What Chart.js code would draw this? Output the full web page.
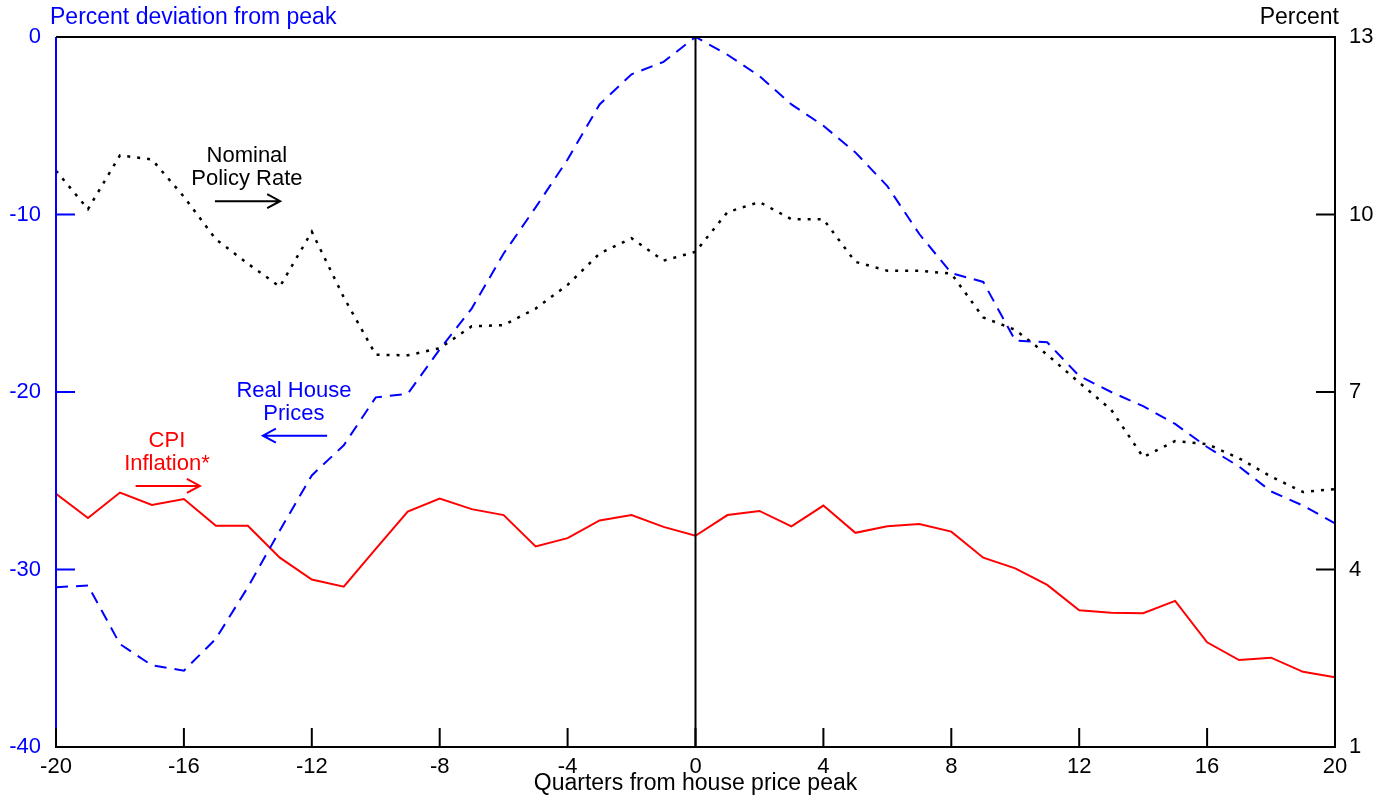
<!DOCTYPE html>
<html>
<head>
<meta charset="utf-8">
<script src="https://cdn.jsdelivr.net/npm/chart.js@4.4.1/dist/chart.umd.min.js"></script>
<style>
    html, body { margin: 0; padding: 0; background: #fff; }
    #wrap { width: 1392px; height: 797px; }
</style>
</head>
<body>
<div id="wrap"><canvas id="chart" width="1392" height="797"></canvas></div>
<script>
// quarters from house price peak
const quarters = [-20, -19, -18, -17, -16, -15, -14, -13, -12, -11, -10, -9, -8, -7, -6, -5, -4, -3, -2, -1,
    0, 1, 2, 3, 4, 5, 6, 7, 8, 9, 10, 11, 12, 13, 14, 15, 16, 17, 18, 19, 20];

// percent deviation from peak (left axis)
const realHousePrices = [-31.0, -30.9, -34.2, -35.4, -35.7, -33.9, -31.0, -27.8, -24.7, -23.0,
    -20.3, -20.1, -17.6, -15.3, -12.2, -9.6, -6.9, -3.8, -2.1, -1.4,
    0.0, -1.0, -2.2, -3.8, -5.0, -6.5, -8.4, -11.1, -13.3, -13.8,
    -17.1, -17.2, -19.1, -20.0, -20.8, -21.8, -23.1, -24.2, -25.6, -26.4, -27.4];

// percent (right axis)
const policyRate = [10.74, 10.09, 11.00, 10.93, 10.30, 9.58, 9.17, 8.78, 9.71, 8.60,
    7.63, 7.62, 7.74, 8.11, 8.13, 8.41, 8.81, 9.34, 9.60, 9.22,
    9.37, 10.04, 10.21, 9.92, 9.92, 9.20, 9.05, 9.05, 9.00, 8.26,
    8.05, 7.63, 7.16, 6.70, 5.90, 6.17, 6.12, 5.88, 5.57, 5.31, 5.36];

const cpiInflation = [5.28, 4.87, 5.30, 5.09, 5.19, 4.74, 4.74, 4.20, 3.83, 3.71,
    4.35, 4.98, 5.20, 5.02, 4.92, 4.39, 4.53, 4.83, 4.92, 4.72,
    4.57, 4.92, 4.99, 4.73, 5.08, 4.62, 4.73, 4.77, 4.64, 4.20,
    4.02, 3.74, 3.31, 3.27, 3.26, 3.47, 2.77, 2.47, 2.51, 2.27, 2.18];

const xTicks = [-20, -16, -12, -8, -4, 0, 4, 8, 12, 16, 20];
const leftTicks = [-40, -30, -20, -10, 0];
const rightTicks = [1, 4, 7, 10, 13];

const BLUE = '#0000ff';
const RED = '#ff0000';
const BLACK = '#000000';
const FONT = "'Liberation Sans', Arial, sans-serif";

// text labels, placed in data units (x quarter, y on left axis)
const annotations = [
    { lines: ['Nominal', 'Policy Rate'], color: BLACK, x: -14.03, y: -6.72, arrowY: -9.25, arrowFrom: -15.03, arrowTo: -12.99 },
    { lines: ['Real House', 'Prices'], color: BLUE, x: -12.56, y: -19.94, arrowY: -22.46, arrowFrom: -11.52, arrowTo: -13.53 },
    { lines: ['CPI', 'Inflation*'], color: RED, x: -16.53, y: -22.73, arrowY: -25.29, arrowFrom: -17.51, arrowTo: -15.50 }
];

function toPoints(values) {
    return quarters.map((q, i) => ({ x: q, y: values[i] }));
}

const framePlugin = {
    id: 'frame',
    afterDatasetsDraw(chart) {
        const ctx = chart.ctx;
        const area = chart.chartArea;
        const xs = chart.scales.x;
        const yl = chart.scales.yLeft;
        const yr = chart.scales.yRight;
        const tickLen = 19;

        ctx.save();
        ctx.lineWidth = 2;
        ctx.lineCap = 'butt';

        // zero line
        ctx.strokeStyle = BLACK;
        ctx.beginPath();
        ctx.moveTo(xs.getPixelForValue(0), area.top);
        ctx.lineTo(xs.getPixelForValue(0), area.bottom);
        ctx.stroke();

        // left axis + ticks (blue)
        ctx.strokeStyle = BLUE;
        ctx.beginPath();
        ctx.moveTo(area.left, area.top);
        ctx.lineTo(area.left, area.bottom);
        leftTicks.forEach(v => {
            const y = yl.getPixelForValue(v);
            ctx.moveTo(area.left, y);
            ctx.lineTo(area.left + tickLen, y);
        });
        ctx.stroke();

        // right axis ticks
        ctx.strokeStyle = BLACK;
        ctx.beginPath();
        rightTicks.forEach(v => {
            const y = yr.getPixelForValue(v);
            ctx.moveTo(area.right, y);
            ctx.lineTo(area.right - tickLen, y);
        });
        // top, right, bottom border
        ctx.moveTo(area.left, area.top);
        ctx.lineTo(area.right, area.top);
        ctx.lineTo(area.right, area.bottom);
        ctx.lineTo(area.left - 1, area.bottom);
        xTicks.forEach(v => {
            const x = xs.getPixelForValue(v);
            ctx.moveTo(x, area.bottom);
            ctx.lineTo(x, area.bottom - tickLen);
        });
        ctx.stroke();

        // axis titles at top
        ctx.font = '23px ' + FONT;
        ctx.textBaseline = 'middle';
        ctx.fillStyle = BLUE;
        ctx.textAlign = 'left';
        ctx.fillText('Percent deviation from peak', 50, 18);
        ctx.fillStyle = BLACK;
        ctx.textAlign = 'right';
        ctx.fillText('Percent', 1339, 18);

        // annotations with arrows
        ctx.font = '22px ' + FONT;
        ctx.textAlign = 'center';
        annotations.forEach(a => {
            const cx = xs.getPixelForValue(a.x);
            const cy = yl.getPixelForValue(a.y);
            ctx.fillStyle = a.color;
            a.lines.forEach((line, i) => ctx.fillText(line, cx, cy + i * 23));

            const ay = yl.getPixelForValue(a.arrowY);
            const x0 = xs.getPixelForValue(a.arrowFrom);
            const x1 = xs.getPixelForValue(a.arrowTo);
            const dir = x1 > x0 ? 1 : -1;
            ctx.strokeStyle = a.color;
            ctx.beginPath();
            ctx.moveTo(x0, ay);
            ctx.lineTo(x1, ay);
            ctx.moveTo(x1 - dir * 13, ay - 7);
            ctx.lineTo(x1, ay);
            ctx.lineTo(x1 - dir * 13, ay + 7);
            ctx.stroke();
        });

        ctx.restore();
    }
};

new Chart(document.getElementById('chart'), {
    type: 'scatter',
    data: {
        datasets: [
            {
                label: 'Real House Prices',
                data: toPoints(realHousePrices),
                yAxisID: 'yLeft',
                showLine: true,
                borderColor: BLUE,
                borderWidth: 2,
                borderDash: [12, 8],
                pointRadius: 0,
                tension: 0
            },
            {
                label: 'Nominal Policy Rate',
                data: toPoints(policyRate),
                yAxisID: 'yRight',
                showLine: true,
                borderColor: BLACK,
                borderWidth: 2.5,
                borderDash: [3, 7],
                pointRadius: 0,
                tension: 0
            },
            {
                label: 'CPI Inflation*',
                data: toPoints(cpiInflation),
                yAxisID: 'yRight',
                showLine: true,
                borderColor: RED,
                borderWidth: 2,
                pointRadius: 0,
                tension: 0
            }
        ]
    },
    options: {
        responsive: false,
        animation: false,
        devicePixelRatio: 1,
        layout: { padding: { top: 37, left: 0, right: 0, bottom: 0 } },
        plugins: {
            legend: { display: false },
            tooltip: { enabled: false }
        },
        scales: {
            x: {
                type: 'linear',
                position: 'bottom',
                min: -20,
                max: 20,
                grid: { display: false, drawTicks: false },
                border: { display: false },
                afterBuildTicks: s => { s.ticks = xTicks.map(v => ({ value: v })); },
                afterFit: s => { s.height = 50; },
                ticks: { color: BLACK, padding: 7, font: { family: FONT, size: 22 }, maxRotation: 0 },
                title: {
                    display: true,
                    text: 'Quarters from house price peak',
                    color: BLACK,
                    font: { family: FONT, size: 23 },
                    padding: { top: 0, bottom: 0 }
                }
            },
            yLeft: {
                type: 'linear',
                position: 'left',
                min: -40,
                max: 0,
                grid: { display: false, drawTicks: false },
                border: { display: false },
                afterBuildTicks: s => { s.ticks = leftTicks.map(v => ({ value: v })); },
                afterFit: s => { s.width = 56; },
                ticks: { color: BLUE, padding: 15, font: { family: FONT, size: 22 } }
            },
            yRight: {
                type: 'linear',
                position: 'right',
                min: 1,
                max: 13,
                grid: { display: false, drawTicks: false },
                border: { display: false },
                afterBuildTicks: s => { s.ticks = rightTicks.map(v => ({ value: v })); },
                afterFit: s => { s.width = 57; },
                ticks: { color: BLACK, padding: 14, font: { family: FONT, size: 22 } }
            }
        }
    },
    plugins: [framePlugin]
});
</script>
</body>
</html>
